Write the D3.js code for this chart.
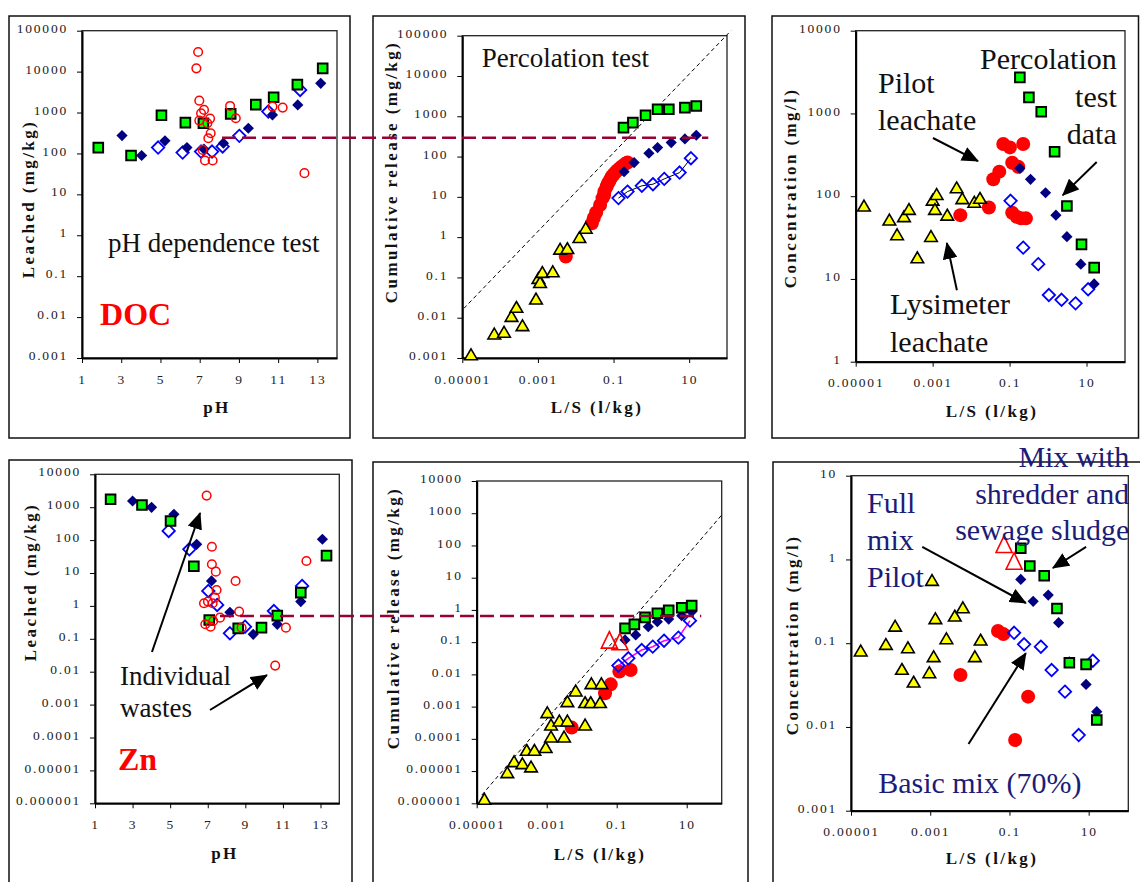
<!DOCTYPE html>
<html lang="en">
<head>
<meta charset="UTF-8">
<title>DOC and Zn leaching</title>
<script src="https://d3js.org/d3.v7.min.js"></script>
<style>
  body { margin: 0; background: #fff; }
  svg text { font-family: "Liberation Serif", Tinos, "Times New Roman", Times, "DejaVu Serif", serif; }
  .tick text { font-size: 13.5px; letter-spacing: 1.8px; fill: #222; }
  .axis-title { font-size: 17px; font-weight: bold; letter-spacing: 2.4px; fill: #111; }
  .note { font-size: 26px; fill: #111; }
</style>
</head>
<body>
<div id="viz"></div>
<script>
// ---- tick values ----
var pHTicks = [1, 3, 5, 7, 9, 11, 13];
var lsTicks = [0.00001, 0.001, 0.1, 10];
var docPhYTicks = [0.001, 0.01, 0.1, 1, 10, 100, 1000, 10000, 100000];
var docConcYTicks = [1, 10, 100, 1000, 10000];
var znYTicks = [0.000001, 0.00001, 0.0001, 0.001, 0.01, 0.1, 1, 10, 100, 1000, 10000];
var znConcYTicks = [0.001, 0.01, 0.1, 1, 10];

// ---- DOC, pH dependence test [pH, mg/kg] ----
var docPhSquares = [[1.83,139],[3.5,89],[5.05,857],[6.27,568],[7.19,547],[8.58,925],[9.86,1563],[10.77,2360],[11.98,4800],[13.27,12000]];
var docPhDiamonds = [[3.04,274],[4.04,89],[5.23,203],[6.35,139],[7.22,127],[8.21,178],[9.48,413],[10.71,873],[12.0,1535],[13.17,5170]];
var docPhOpen = [[4.88,139],[6.13,105],[7.07,111],[7.63,111],[8.17,148],[9.02,269],[10.5,1054],[12.12,3560]];
var docPhWastes = [[6.92,30100],[6.83,12000],[6.98,1950],[7.22,1160],[7.07,960],[6.98,636],[7.53,711],[7.39,547],[7.56,312],[7.44,235],[7.15,122],[7.27,67],[7.66,67],[8.55,1449],[8.84,724],[10.71,1397],[11.23,1320],[12.34,33]];

// ---- DOC, percolation test [L/S, mg/kg] ----
var docPercSquares = [[0.183,524],[0.324,697],[0.70,1060],[1.46,1490],[2.9,1490],[7.7,1640],[15.4,1800]];
var docPercDiamonds = [[0.19,42],[0.35,71],[0.86,121],[1.46,167],[3.35,222],[7.7,274],[15.4,338]];
var docPercOpen = [[0.135,9.3],[0.234,13.5],[0.56,18.8],[1.1,20.6],[2.19,27.9],[5.57,40],[11.1,91]];
var docPercPilot = [[0.00545,0.33],[0.0266,2.2],[0.030,3.0],[0.0347,4.1],[0.044,6.3],[0.051,9.3],[0.056,11],[0.0575,13.6],[0.066,18],[0.07,21],[0.0766,24],[0.083,28],[0.09,32],[0.1,36],[0.11,40],[0.125,45],[0.144,51],[0.17,58],[0.203,66],[0.234,71]];
var docPercLysimeter = [[1.7e-5,0.00116],[7.0e-5,0.0038],[1.27e-4,0.0042],[2.0e-4,0.0104],[2.7e-4,0.0174],[3.9e-4,0.0061],[8.9e-4,0.028],[0.00103,0.091],[0.00114,0.072],[0.00131,0.128],[0.00247,0.133],[0.00386,0.485],[0.006,0.5],[0.0125,0.94],[0.0184,1.6]];
var docPercGuide = [[1.1e-5,0.017],[127,133000]];

// ---- DOC, concentration [L/S, mg/l] ----
var docConcSquares = [[0.185,2730],[0.318,1564],[0.665,1050],[1.48,345],[3.09,76],[7.41,26.2],[15.8,13.7]];
var docConcDiamonds = [[0.185,217],[0.35,160],[0.86,110],[1.6,59],[3.09,32.4],[7.1,15.1],[15.8,8.7]];
var docConcOpen = [[0.106,88],[0.226,23.9],[0.556,15.1],[1.05,6.4],[2.24,5.6],[5.18,5.07],[11.0,7.5]];
var docConcPilot = [[0.00524,59],[0.029,73],[0.0377,160],[0.054,198],[0.0685,427],[0.102,389],[0.117,254],[0.168,227],[0.226,427],[0.117,63],[0.152,56.5],[0.197,54],[0.266,54]];
var docConcLysimeter = [[1.64e-5,74.7],[7.5e-5,50.6],[1.19e-4,33.6],[1.8e-4,55.5],[2.43e-4,68],[4.0e-4,17.7],[9.06e-4,32],[0.001,88],[0.00115,68],[0.00127,103],[0.0024,58],[0.0042,124],[0.0059,91.6],[0.0121,83],[0.017,92.5]];

// ---- Zn, pH dependence test ----
var znPhSquares = [[1.83,1738],[3.5,1170],[5.02,382],[6.26,16],[7.08,0.373],[8.62,0.208],[9.86,0.218],[10.7,0.506],[11.95,2.53],[13.32,33.7]];
var znPhDiamonds = [[3.0,1545],[4.01,993],[5.2,608],[6.41,74.5],[7.2,5.73],[8.18,0.638],[9.42,0.137],[10.7,0.276],[11.95,1.35],[13.1,106]];
var znPhOpen = [[4.92,190],[6.02,52.5],[7.03,2.84],[7.5,1.07],[8.18,0.147],[8.98,0.234],[10.52,0.70],[12.02,4.04]];
var znPhWastes = [[6.94,2250],[7.22,63],[7.22,18.4],[7.43,11],[8.48,5.73],[7.47,3.05],[7.38,1.78],[6.8,1.2],[7.01,1.35],[7.26,1.2],[6.87,0.276],[7.15,0.234],[7.29,0.348],[7.65,0.44],[8.67,0.67],[8.8,0.218],[10.59,0.0153],[11.16,0.218],[12.25,23.2]];

// ---- Zn, percolation test ----
var znPercSquares = [[0.173,0.268],[0.32,0.357],[0.645,0.589],[1.45,0.785],[3.06,0.97],[7.2,1.17],[13.9,1.36]];
var znPercDiamonds = [[0.173,0.117],[0.35,0.167],[0.8,0.30],[1.45,0.433],[3.06,0.52],[7.2,0.664],[13.9,0.88]];
var znPercOpen = [[0.112,0.0187],[0.215,0.0315],[0.518,0.057],[1.07,0.0725],[2.25,0.111],[5.78,0.138],[12.4,0.465]];
var znPercPilot = [[0.00518,0.000223],[0.0464,0.00259],[0.0675,0.0049],[0.119,0.0122],[0.25,0.0137]];
var znPercFullMix = [[0.0617,0.104],[0.123,0.092]];
var znPercLysimeter = [[1.66e-5,1.27e-6],[7.5e-5,8.5e-6],[1.17e-4,1.87e-5],[2.02e-4,1.62e-5],[2.69e-4,4.2e-5],[4.45e-4,4.2e-5],[3.57e-4,1.28e-5],[9.36e-4,5.1e-5],[0.00104,6.2e-4],[0.00133,2.57e-4],[0.00133,1.09e-4],[0.0023,3.42e-4],[0.00313,1.09e-4],[0.0039,3.42e-4],[0.0039,0.00136],[0.00674,0.00291],[0.0125,0.00127],[0.0125,2.57e-4],[0.0181,0.00127],[0.0189,0.0049],[0.0334,0.00127],[0.0365,0.0049]];
var znPercGuide = [[1.4e-5,1.8e-6],[100,880]];

// ---- Zn, concentration ----
var znConcSquares = [[0.193,1.36],[0.327,0.834],[0.754,0.64],[1.58,0.26],[3.25,0.0585],[8.59,0.0558],[16.0,0.0121]];
var znConcDiamonds = [[0.193,0.578],[0.397,0.316],[0.953,0.376],[1.74,0.176],[3.25,0.060],[8.59,0.0322],[16.0,0.0152]];
var znConcOpen = [[0.131,0.133],[0.234,0.097],[0.621,0.0908],[1.16,0.0478],[2.52,0.0264],[5.6,0.008],[12.7,0.0618]];
var znConcPilot = [[0.0058,0.0417],[0.0514,0.14],[0.0702,0.1285],[0.296,0.023],[0.139,0.00698]];
var znConcFullMix = [[0.073,1.45],[0.131,0.914]];
var znConcLysimeter = [[1.76e-5,0.0793],[7.6e-5,0.095],[1.3e-4,0.157],[1.93e-4,0.0479],[2.74e-4,0.0867],[3.81e-4,0.0337],[9.5e-4,0.0436],[0.00111,0.552],[0.00122,0.0678],[0.00135,0.193],[0.00256,0.111],[0.00417,0.207],[0.00666,0.26],[0.0134,0.0678],[0.0187,0.107]];

// reference levels (dashed red lines)
var docLevel = 294, docLevelFromPh = 8.14, docLevelToLS = 32;
var znLevel = 0.65, znLevelFromPh = 7.65, znLevelToLS = 26;

var svg = d3.select("#viz").append("svg")
    .attr("width", 1140)
    .attr("height", 882)
    .style("display", "block");

svg.append("defs").append("marker")
    .attr("id", "head")
    .attr("viewBox", "0 0 16 14")
    .attr("refX", 15).attr("refY", 7)
    .attr("markerWidth", 17).attr("markerHeight", 15)
    .attr("markerUnits", "userSpaceOnUse")
    .attr("orient", "auto")
  .append("path")
    .attr("d", "M0,0L16,7L0,14Z")
    .attr("fill", "#000");

function fmt(d) {
  return d >= 1 ? String(d) : d.toFixed(Math.round(-Math.log10(d)));
}

// marker shapes
var SQUARE = "M-4.8,-4.8h9.6v9.6h-9.6z";
var DIAMOND = "M0,-5.6L5.6,0L0,5.6L-5.6,0Z";
var OPEN_DIAMOND = "M0,-6.2L6.2,0L0,6.2L-6.2,0Z";
var TRIANGLE = "M0,-6.5L6.3,4.3L-6.3,4.3Z";
var BIG_TRIANGLE = "M0,-10L8,6.5L-8,6.5Z";

function panel(p) {
  svg.append("rect")
      .attr("x", p.frame[0]).attr("y", p.frame[1])
      .attr("width", p.frame[2] - p.frame[0]).attr("height", p.frame[3] - p.frame[1])
      .attr("fill", "none").attr("stroke", "#111").attr("stroke-width", 1.5);

  var x = (p.xlog ? d3.scaleLog() : d3.scaleLinear()).domain(p.xdom).range([p.plot[0], p.plot[2]]);
  var y = d3.scaleLog().domain(p.ydom).range([p.plot[3], p.plot[1]]);

  svg.append("rect")
      .attr("x", p.plot[0]).attr("y", p.plot[1])
      .attr("width", p.plot[2] - p.plot[0]).attr("height", p.plot[3] - p.plot[1])
      .attr("fill", "none").attr("stroke", "#222").attr("stroke-width", 1.3);

  var gy = svg.append("g")
      .attr("transform", "translate(" + p.plot[0] + ",0)")
      .call(d3.axisLeft(y).tickValues(p.yticks).tickFormat(fmt)
        .tickSizeInner(5).tickSizeOuter(0).tickPadding(9));
  gy.attr("font-family", null).attr("font-size", null);
  gy.select(".domain").attr("stroke-width", 2);
  gy.selectAll(".tick text").attr("dy", "0.12em");

  var gx = svg.append("g")
      .attr("transform", "translate(0," + p.plot[3] + ")")
      .call(d3.axisBottom(x).tickValues(p.xticks).tickFormat(p.xlog ? fmt : d3.format("d"))
        .tickSizeInner(5).tickSizeOuter(0).tickPadding(11));
  gx.attr("font-family", null).attr("font-size", null);
  gx.select(".domain").attr("stroke-width", 2);

  svg.append("text")
      .attr("class", "axis-title")
      .attr("transform", "translate(" + p.ytitle[0] + "," + p.ytitle[1] + ") rotate(-90)")
      .attr("text-anchor", "middle")
      .text(p.ylabel);
  svg.append("text")
      .attr("class", "axis-title")
      .attr("x", p.xtitle[0]).attr("y", p.xtitle[1])
      .attr("text-anchor", "middle")
      .text(p.xlabel);

  return { x: x, y: y };
}

function shapes(s, data, d, fill, stroke, sw) {
  svg.append("g").selectAll("path")
    .data(data)
    .join("path")
      .attr("transform", function(v) { return "translate(" + s.x(v[0]) + "," + s.y(v[1]) + ")"; })
      .attr("d", d)
      .attr("fill", fill)
      .attr("stroke", stroke)
      .attr("stroke-width", sw);
}

function circles(s, data, r, fill, stroke, sw) {
  svg.append("g").selectAll("circle")
    .data(data)
    .join("circle")
      .attr("cx", function(v) { return s.x(v[0]); })
      .attr("cy", function(v) { return s.y(v[1]); })
      .attr("r", r)
      .attr("fill", fill)
      .attr("stroke", stroke)
      .attr("stroke-width", sw);
}

function joinLine(s, data, color, width, dash) {
  var line = d3.line().x(function(v) { return s.x(v[0]); }).y(function(v) { return s.y(v[1]); });
  svg.append("path")
      .attr("d", line(data))
      .attr("fill", "none")
      .attr("stroke", color)
      .attr("stroke-width", width)
      .attr("stroke-dasharray", dash || null);
}

function note(s, lines, xv, yv, opt) {
  opt = opt || {};
  var t = svg.append("text")
      .attr("class", "note")
      .attr("text-anchor", opt.anchor || "start")
      .style("font-size", (opt.size || 26) + "px")
      .style("fill", opt.color || "#111")
      .style("font-weight", opt.bold ? "bold" : null);
  var x0 = s.x(xv), y0 = s.y(yv);
  lines.forEach(function(l, i) {
    t.append("tspan").attr("x", x0).attr("y", y0 + i * (opt.lead || 37)).text(l);
  });
}

function arrow(s, from, to) {
  svg.append("line")
      .attr("x1", s.x(from[0])).attr("y1", s.y(from[1]))
      .attr("x2", s.x(to[0])).attr("y2", s.y(to[1]))
      .attr("stroke", "#000").attr("stroke-width", 2)
      .attr("marker-end", "url(#head)");
}

// standard drawing order for the material series
function drawSet(s, set) {
  if (set.pilot) circles(s, set.pilot, 7, "#ff0000", "none", 0);
  if (set.lysimeter) shapes(s, set.lysimeter, TRIANGLE, "#ffff00", "#000", 1.6);
  if (set.openLine) joinLine(s, set.open, set.openLine, set.openLineWidth);
  if (set.open) shapes(s, set.open, OPEN_DIAMOND, "none", "#0000ff", 1.8);
  if (set.diamonds) shapes(s, set.diamonds, DIAMOND, "#000080", "none", 0);
  if (set.squares) shapes(s, set.squares, SQUARE, "#00ff00", "#000", 2);
  if (set.wastes) circles(s, set.wastes, 4.3, "none", "#ff0000", 1.5);
  if (set.fullMix) shapes(s, set.fullMix, BIG_TRIANGLE, "none", "#ff0000", 1.6);
}

// ---------- top row: DOC ----------
var p1 = panel({ frame: [9, 16, 350, 438], plot: [82, 30.7, 337, 358], xlog: false, xdom: [1, 14], ydom: [0.001, 100000],
  xticks: pHTicks, yticks: docPhYTicks, ylabel: "Leached (mg/kg)", xlabel: "pH", ytitle: [34, 199], xtitle: [217, 413] });
drawSet(p1, { squares: docPhSquares, diamonds: docPhDiamonds, open: docPhOpen, wastes: docPhWastes });
note(p1, ["pH dependence test"], 2.33, 0.388, { size: 27 });
note(p1, ["DOC"], 1.92, 0.0064, { size: 32, bold: true, color: "#ff0000" });

var p2 = panel({ frame: [373, 16, 745, 438], plot: [462.3, 35.7, 727, 358], xlog: true, xdom: [0.00001, 100], ydom: [0.001, 100000],
  xticks: lsTicks, yticks: docPhYTicks, ylabel: "Cumulative release (mg/kg)", xlabel: "L/S  (l/kg)", ytitle: [397, 172], xtitle: [597, 413] });
joinLine(p2, docPercGuide, "#000", 1, "4,3");
drawSet(p2, { pilot: docPercPilot, lysimeter: docPercLysimeter, open: docPercOpen, openLine: "#000", openLineWidth: 1,
  diamonds: docPercDiamonds, squares: docPercSquares });
note(p2, ["Percolation test"], 3.27e-5, 17000, { size: 27 });

var p3 = panel({ frame: [772, 16, 1138.5, 438], plot: [855.7, 30.7, 1125, 361.7], xlog: true, xdom: [0.00001, 100], ydom: [1, 10000],
  xticks: lsTicks, yticks: docConcYTicks, ylabel: "Concentration (mg/l)", xlabel: "L/S  (l/kg)", ytitle: [796, 188], xtitle: [992, 417] });
drawSet(p3, { pilot: docConcPilot, lysimeter: docConcLysimeter, open: docConcOpen, diamonds: docConcDiamonds, squares: docConcSquares });
note(p3, ["Percolation", "test", "data"], 61, 3440, { size: 30, anchor: "end", lead: 37.5 });
note(p3, ["Pilot", "leachate"], 3.8e-5, 1770, { size: 30 });
note(p3, ["Lysimeter", "leachate"], 7.8e-5, 3.77, { size: 30, lead: 38 });
arrow(p3, [0.00102, 505], [0.0151, 266]);
arrow(p3, [0.00427, 7.3], [0.00234, 27.2]);
arrow(p3, [18.4, 259], [2.41, 103]);

// dashed DOC reference level, running from the pH panel into the percolation panel
svg.append("line")
    .attr("x1", p1.x(docLevelFromPh)).attr("x2", p2.x(docLevelToLS))
    .attr("y1", p2.y(docLevel)).attr("y2", p2.y(docLevel))
    .attr("stroke", "#990033").attr("stroke-width", 2.5).attr("stroke-dasharray", "14,6");

// ---------- bottom row: Zn ----------
var p4 = panel({ frame: [9, 460, 352, 900], plot: [95, 474.3, 339.3, 803.3], xlog: false, xdom: [1, 14], ydom: [0.000001, 10000],
  xticks: pHTicks, yticks: znYTicks, ylabel: "Leached (mg/kg)", xlabel: "pH", ytitle: [36, 582], xtitle: [225, 859] });
drawSet(p4, { squares: znPhSquares, diamonds: znPhDiamonds, open: znPhOpen, wastes: znPhWastes });
note(p4, ["Individual", "wastes"], 2.33, 0.00394, { size: 27, lead: 32 });
note(p4, ["Zn"], 2.22, 1.03e-5, { size: 32, bold: true, color: "#ff0000" });
arrow(p4, [4.03, 0.0397], [6.59, 667]);
arrow(p4, [7.12, 0.000686], [10.15, 0.0079]);

var p5 = panel({ frame: [373, 462, 748, 900], plot: [476.7, 481, 721.7, 803.3], xlog: true, xdom: [0.00001, 100], ydom: [0.000001, 10000],
  xticks: lsTicks, yticks: znYTicks, ylabel: "Cumulative release (mg/kg)", xlabel: "L/S  (l/kg)", ytitle: [399, 618], xtitle: [600, 860] });
joinLine(p5, znPercGuide, "#000", 1, "4,3");
drawSet(p5, { pilot: znPercPilot, lysimeter: znPercLysimeter, open: znPercOpen, openLine: "#ff00ff", openLineWidth: 1.6,
  diamonds: znPercDiamonds, squares: znPercSquares, fullMix: znPercFullMix });

var p6 = panel({ frame: [773, 462, 1145, 900], plot: [851, 475.7, 1128.3, 810.7], xlog: true, xdom: [0.00001, 100], ydom: [0.001, 10],
  xticks: lsTicks, yticks: znConcYTicks, ylabel: "Concentration (mg/l)", xlabel: "L/S  (l/kg)", ytitle: [798, 635], xtitle: [992, 864] });
drawSet(p6, { pilot: znConcPilot, lysimeter: znConcLysimeter, open: znConcOpen, diamonds: znConcDiamonds, squares: znConcSquares, fullMix: znConcFullMix });
var navy = "#1c1c78";
note(p6, ["Mix with", "shredder and", "sewage sludge"], 106, 12.7, { size: 30, anchor: "end", color: navy, lead: 36.5 });
note(p6, ["Full", "mix", "Pilot"], 2.55e-5, 3.59, { size: 30, color: navy, lead: 37 });
note(p6, ["Basic mix (70%)"], 4.84e-5, 0.00163, { size: 30, color: navy });
arrow(p6, [6.3e-4, 1.41], [0.259, 0.302]);
arrow(p6, [8.6, 1.41], [1.25, 0.79]);
arrow(p6, [0.00927, 0.00625], [0.259, 0.076]);

svg.append("line")
    .attr("x1", p4.x(znLevelFromPh)).attr("x2", p5.x(znLevelToLS))
    .attr("y1", p5.y(znLevel)).attr("y2", p5.y(znLevel))
    .attr("stroke", "#990033").attr("stroke-width", 2.5).attr("stroke-dasharray", "14,6");
</script>
</body>
</html>
